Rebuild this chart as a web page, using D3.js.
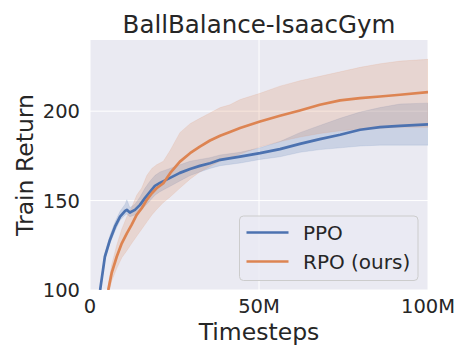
<!DOCTYPE html>
<html>
<head>
<meta charset="utf-8">
<script src="https://cdn.jsdelivr.net/npm/d3@7"></script>
<style>
  body { margin: 0; background: #fff; }
  svg { display: block; font-family: "DejaVu Sans", sans-serif; }
</style>
</head>
<body>
<svg id="chart" width="470" height="360"></svg>
<script>
// values (timesteps in millions)
const ppoX    = [3.0, 4.4, 5.9, 7.4, 8.9, 10.4, 10.9, 11.8, 13.3, 14.8, 16.3, 17.8, 19.2, 20.7, 23.7, 26.6, 29.6, 32.5, 35.5, 38.5, 44.4, 50.3, 56.2, 62.1, 68.0, 74.0, 79.9, 85.8, 91.7, 100];
const ppoMean = [100, 118.6, 128, 135.4, 141, 144.2, 144.8, 143.3, 144.8, 147.6, 151.5, 155, 158.2, 159.9, 162.7, 165.5, 167.7, 169.4, 170.9, 172.8, 174.6, 176.5, 178.8, 181.7, 184.4, 186.8, 189.6, 191.1, 191.8, 192.6];
const ppoLow  = [99, 117, 126, 133, 139, 142, 142.5, 141, 142, 144, 147, 150, 153, 155, 158, 161, 164, 166, 168, 169.5, 171, 173, 174.5, 177, 178.5, 179.5, 180.5, 181, 181, 181];
const ppoHigh = [101, 120.5, 130.5, 138, 144, 148, 150.5, 146, 148, 152, 157, 161, 164, 166, 168, 170, 172, 173, 174, 175.5, 177, 179.5, 183, 188, 192, 196, 199.5, 202, 204, 204.5];

const rpoX    = [5.4, 6.4, 7.9, 9.4, 10.9, 12.3, 13.8, 15.3, 16.8, 18.3, 19.7, 21.7, 23.7, 26.6, 29.6, 32.5, 35.5, 38.5, 41.4, 44.4, 50.3, 56.2, 62.1, 68.0, 74.0, 79.9, 85.8, 91.7, 100];
const rpoMean = [100, 109.4, 118.6, 126.1, 131.7, 136.4, 142, 145.7, 150.4, 154.1, 156.9, 159.7, 165.3, 171.8, 176.5, 180.2, 183.6, 186.3, 188.4, 190.6, 194.2, 197.4, 200.4, 203.6, 206, 207.3, 208.2, 209.2, 210.7];
const rpoLow  = [97, 105, 112, 118, 122, 126, 130, 134, 138, 142, 145, 149, 152, 157, 162, 166, 169, 172, 174, 176, 180, 183, 185.5, 187.5, 189, 190, 190.5, 191, 191];
const rpoHigh = [103, 114, 125, 134, 141, 146, 153, 157, 164, 168, 170, 172, 178, 188, 193, 196, 199, 202, 203.6, 206.5, 210, 214, 217, 219.5, 222, 224.5, 226.5, 228, 229];

const xTicks = [0, 50, 100];
const xTickLabels = ["0", "50M", "100M"];
const yTicks = [100, 150, 200];

const seriesNames = ["PPO", "RPO (ours)"];
const seriesColors = ["#4c72b0", "#dd8452"];

const svg = d3.select("#chart");
const margin = { left: 90, top: 40, right: 42, bottom: 70 };
const W = 470, H = 360;

const x = d3.scaleLinear().domain([0, 100]).range([margin.left, W - margin.right]);
const y = d3.scaleLinear().domain([100, 239.8]).range([H - margin.bottom, margin.top]);

const textColor = "#262626";

// background
svg.append("rect")
  .attr("x", x(0)).attr("y", y(239.8))
  .attr("width", x(100) - x(0)).attr("height", y(100) - y(239.8))
  .attr("fill", "#eaeaf2");

svg.append("defs").append("clipPath").attr("id", "plotclip")
  .append("rect")
  .attr("x", x(0)).attr("y", y(239.8))
  .attr("width", x(100) - x(0)).attr("height", y(100) - y(239.8));

// grid
const grid = svg.append("g");
grid.selectAll(".vg").data(xTicks).join("line")
  .attr("x1", d => x(d)).attr("x2", d => x(d))
  .attr("y1", y(100)).attr("y2", y(239.8))
  .attr("stroke", "#fff").attr("stroke-width", 1);
grid.selectAll(".hg").data(yTicks).join("line")
  .attr("x1", x(0)).attr("x2", x(100))
  .attr("y1", d => y(d)).attr("y2", d => y(d))
  .attr("stroke", "#fff").attr("stroke-width", 1);

const series = [
  { xs: ppoX, mean: ppoMean, low: ppoLow, high: ppoHigh },
  { xs: rpoX, mean: rpoMean, low: rpoLow, high: rpoHigh }
];

const plot = svg.append("g").attr("clip-path", "url(#plotclip)");

series.forEach((s, k) => {
  const pts = s.xs.map((v, i) => ({ x: v, m: s.mean[i], lo: s.low[i], hi: s.high[i] }));
  plot.append("path")
    .datum(pts)
    .attr("fill", seriesColors[k])
    .attr("fill-opacity", 0.2)
    .attr("stroke", seriesColors[k])
    .attr("stroke-opacity", 0.12)
    .attr("stroke-width", 1)
    .attr("d", d3.area().x(d => x(d.x)).y0(d => y(d.lo)).y1(d => y(d.hi)));
});
series.forEach((s, k) => {
  const pts = s.xs.map((v, i) => ({ x: v, m: s.mean[i] }));
  plot.append("path")
    .datum(pts)
    .attr("fill", "none")
    .attr("stroke", seriesColors[k])
    .attr("stroke-width", 2.7)
    .attr("stroke-linejoin", "round")
    .attr("d", d3.line().x(d => x(d.x)).y(d => y(d.m)));
});

// tick labels
svg.selectAll(".xt").data(xTicks).join("text")
  .attr("x", d => x(d)).attr("y", 313)
  .attr("text-anchor", "middle")
  .attr("font-size", "19.5px").attr("fill", textColor)
  .text((d, i) => xTickLabels[i]);
svg.selectAll(".yt").data(yTicks).join("text")
  .attr("x", 80).attr("y", d => y(d) + 7)
  .attr("text-anchor", "end")
  .attr("font-size", "19.5px").attr("fill", textColor)
  .text(d => d);

// axis labels and title
svg.append("text")
  .attr("x", x(50)).attr("y", 340)
  .attr("text-anchor", "middle")
  .attr("font-size", "23.5px").attr("fill", textColor)
  .text("Timesteps");
svg.append("text")
  .attr("transform", `translate(33,${(y(100) + y(239.8)) / 2}) rotate(-90)`)
  .attr("text-anchor", "middle")
  .attr("font-size", "23.5px").attr("fill", textColor)
  .text("Train Return");
svg.append("text")
  .attr("x", x(50)).attr("y", 33)
  .attr("text-anchor", "middle")
  .attr("font-size", "24.5px").attr("fill", textColor)
  .text("BallBalance-IsaacGym");

// legend
const legend = svg.append("g").attr("transform", "translate(239.5,216)");
legend.append("rect")
  .attr("width", 178.5).attr("height", 64.5)
  .attr("rx", 4)
  .attr("fill", "#eaeaf2").attr("fill-opacity", 0.8)
  .attr("stroke", "#cccccc").attr("stroke-width", 1);
seriesNames.forEach((name, i) => {
  const yy = 16.5 + i * 29;
  legend.append("line")
    .attr("x1", 7).attr("x2", 49)
    .attr("y1", yy).attr("y2", yy)
    .attr("stroke", seriesColors[i]).attr("stroke-width", 2.7);
  legend.append("text")
    .attr("x", 63.5).attr("y", yy + 7)
    .attr("font-size", "20px").attr("fill", textColor)
    .text(name);
});
</script>
</body>
</html>
